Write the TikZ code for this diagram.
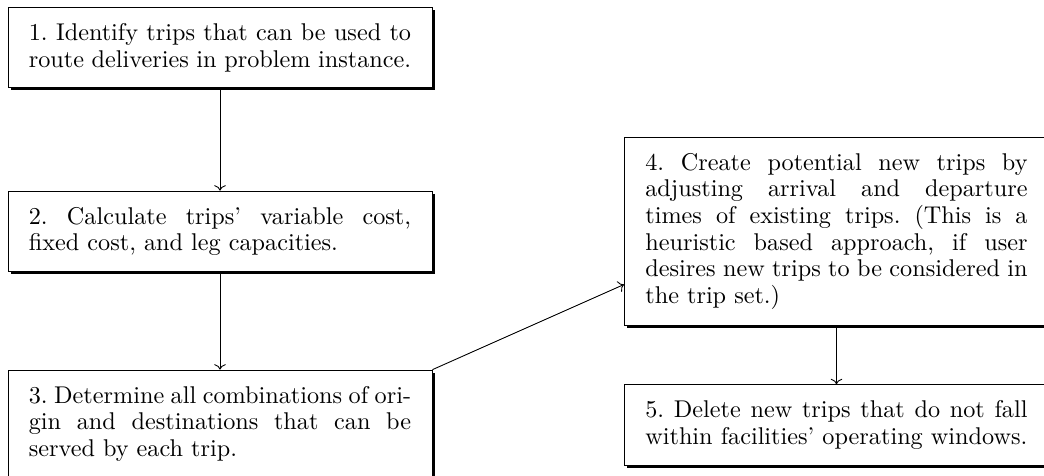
\documentclass[tikz,border=0pt]{standalone}
\usetikzlibrary{arrows.meta,calc,positioning,shadows}
\frenchspacing

\begin{document}
\begin{tikzpicture}[node distance= 1.6cm]
      \useasboundingbox (-99pt,21.4pt) rectangle (370.8pt,-192.4pt);
      \begin{scope}[every node/.style={draw,fill=white,text width=172pt,
          align=justify,inner xsep=9.4pt,inner ysep=7.2pt,
          font=\fontsize{10.9}{12}\selectfont,
          drop shadow={opacity=1,fill=black,shadow xshift=1.2pt,shadow yshift=-1.2pt}}]
        \node (S1) {1. Identify trips that can be used to route deliveries in problem instance.};
        \node (S2) [below= 1.62cm of S1] {2. Calculate trips' variable cost, fixed cost, and leg capacities.};
        \node (S3) [below= 1.54cm of S2] {3. Determine all combinations of origin and destinations that can be served by each trip.};
        \node (S4) [right= 3.03cm of S2] {4. Create potential new trips by\linebreak
          adjusting arrival and departure\linebreak
          times of existing trips. (This is a\linebreak
          heuristic based approach, if user\linebreak
          desires new trips to be considered in\linebreak
          the trip set.)};
        \node (S5) [below= 0.92cm of S4] {5. Delete new trips that do not fall within facilities' operating windows.};
      \end{scope}
      \coordinate (S4in) at ($(S4.south west)!0.22!(S4.north west)$);
      \begin{scope}[every edge/.style={draw= black,->}]
        \path (S1) edge (S2);
        \path (S2) edge (S3);
        \path (S3.north east) edge (S4in);
        \path (S4) edge (S5);
      \end{scope}
    \end{tikzpicture}
\end{document}
